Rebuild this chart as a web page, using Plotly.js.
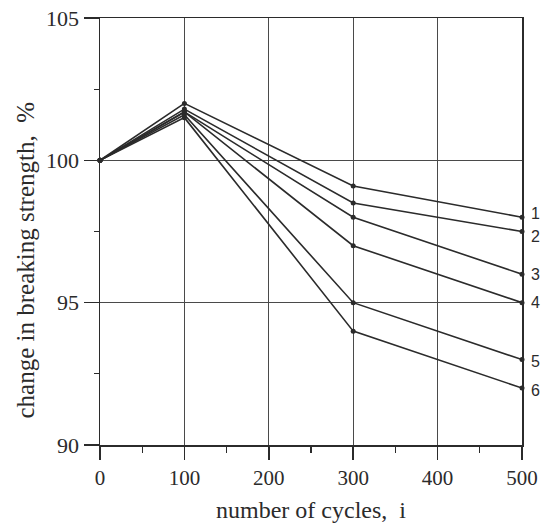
<!DOCTYPE html>
<html>
<head>
<meta charset="utf-8">
<script src="https://cdn.plot.ly/plotly-3.0.1.min.js"></script>
<style>html,body{margin:0;padding:0;background:#fff;}#chart{width:543px;height:526px;}</style>
</head>
<body>
<div id="chart"></div>
<script>
const cycles = [0, 100, 300, 500];
const seriesLabels = ["1", "2", "3", "4", "5", "6"];
const s1 = [100, 102.0, 99.1, 98.0];
const s2 = [100, 101.8, 98.5, 97.5];
const s3 = [100, 101.7, 98.0, 96.0];
const s4 = [100, 101.7, 97.0, 95.0];
const s5 = [100, 101.6, 95.0, 93.0];
const s6 = [100, 101.5, 94.0, 92.0];
const allSeries = [s1, s2, s3, s4, s5, s6];
const xTicks = [0, 100, 200, 300, 400, 500];
const yTicks = [90, 95, 100, 105];
const xTitle = 'number of cycles,  i';
const yTitle = 'change in breaking strength,  %';

const ink = '#2b2b2b';
const traces = allSeries.map((s, i) => ({
  x: cycles, y: s, type: 'scatter', mode: 'lines+markers',
  line: {color: ink, width: 1.6},
  marker: {color: ink, size: 5},
  showlegend: false, hoverinfo: 'none', cliponaxis: false
}));

const labelShift = [4, -5, 0, 0, -2, -2];
const annotations = allSeries.map((s, i) => ({
  x: cycles[cycles.length - 1], y: s[s.length - 1], xref: 'x', yref: 'y',
  text: seriesLabels[i], showarrow: false, xanchor: 'left', yanchor: 'middle',
  xshift: 7, yshift: labelShift[i],
  font: {family: 'Liberation Sans, Arial, sans-serif', size: 16, color: ink}
}));

const serif = 'Liberation Serif, Times New Roman, serif';
annotations.push({
  xref: 'paper', yref: 'paper', x: 0, y: 0.5, xshift: -75, yshift: -29,
  text: yTitle, textangle: -90, showarrow: false,
  xanchor: 'center', yanchor: 'middle',
  font: {family: serif, size: 25, color: ink}
});

const layout = {
  width: 543, height: 526,
  margin: {l: 100, r: 21, t: 18, b: 81},
  paper_bgcolor: '#fff', plot_bgcolor: '#fff',
  font: {family: serif, size: 21, color: ink},
  showlegend: false,
  annotations: annotations,
  xaxis: {
    range: [0, 500], tickvals: xTicks, ticktext: xTicks.map(String),
    showgrid: true, gridcolor: '#4a4a4a', gridwidth: 1,
    showline: true, linecolor: ink, linewidth: 1.5, mirror: true,
    ticks: 'outside', ticklen: 13, tickcolor: ink, tickwidth: 1.5,
    zeroline: false,
    tickfont: {family: serif, size: 21, color: ink},
    minor: {dtick: 50, tick0: 0, ticks: 'outside', ticklen: 6, tickcolor: ink, tickwidth: 1.2, showgrid: false},
    title: {text: xTitle, font: {family: serif, size: 24, color: ink}, standoff: 12}
  },
  yaxis: {
    range: [90, 105], tickvals: yTicks, ticktext: yTicks.map(String),
    showgrid: true, gridcolor: '#4a4a4a', gridwidth: 1,
    showline: true, linecolor: ink, linewidth: 1.5, mirror: true,
    ticks: 'outside', ticklen: 15, tickcolor: ink, tickwidth: 1.5,
    zeroline: false,
    tickfont: {family: serif, size: 22, color: ink},
    minor: {dtick: 2.5, tick0: 90, ticks: 'outside', ticklen: 5, tickcolor: ink, tickwidth: 1.2, showgrid: false}
  }
};

Plotly.newPlot('chart', traces, layout, {staticPlot: true, displayModeBar: false});
</script>
</body>
</html>
